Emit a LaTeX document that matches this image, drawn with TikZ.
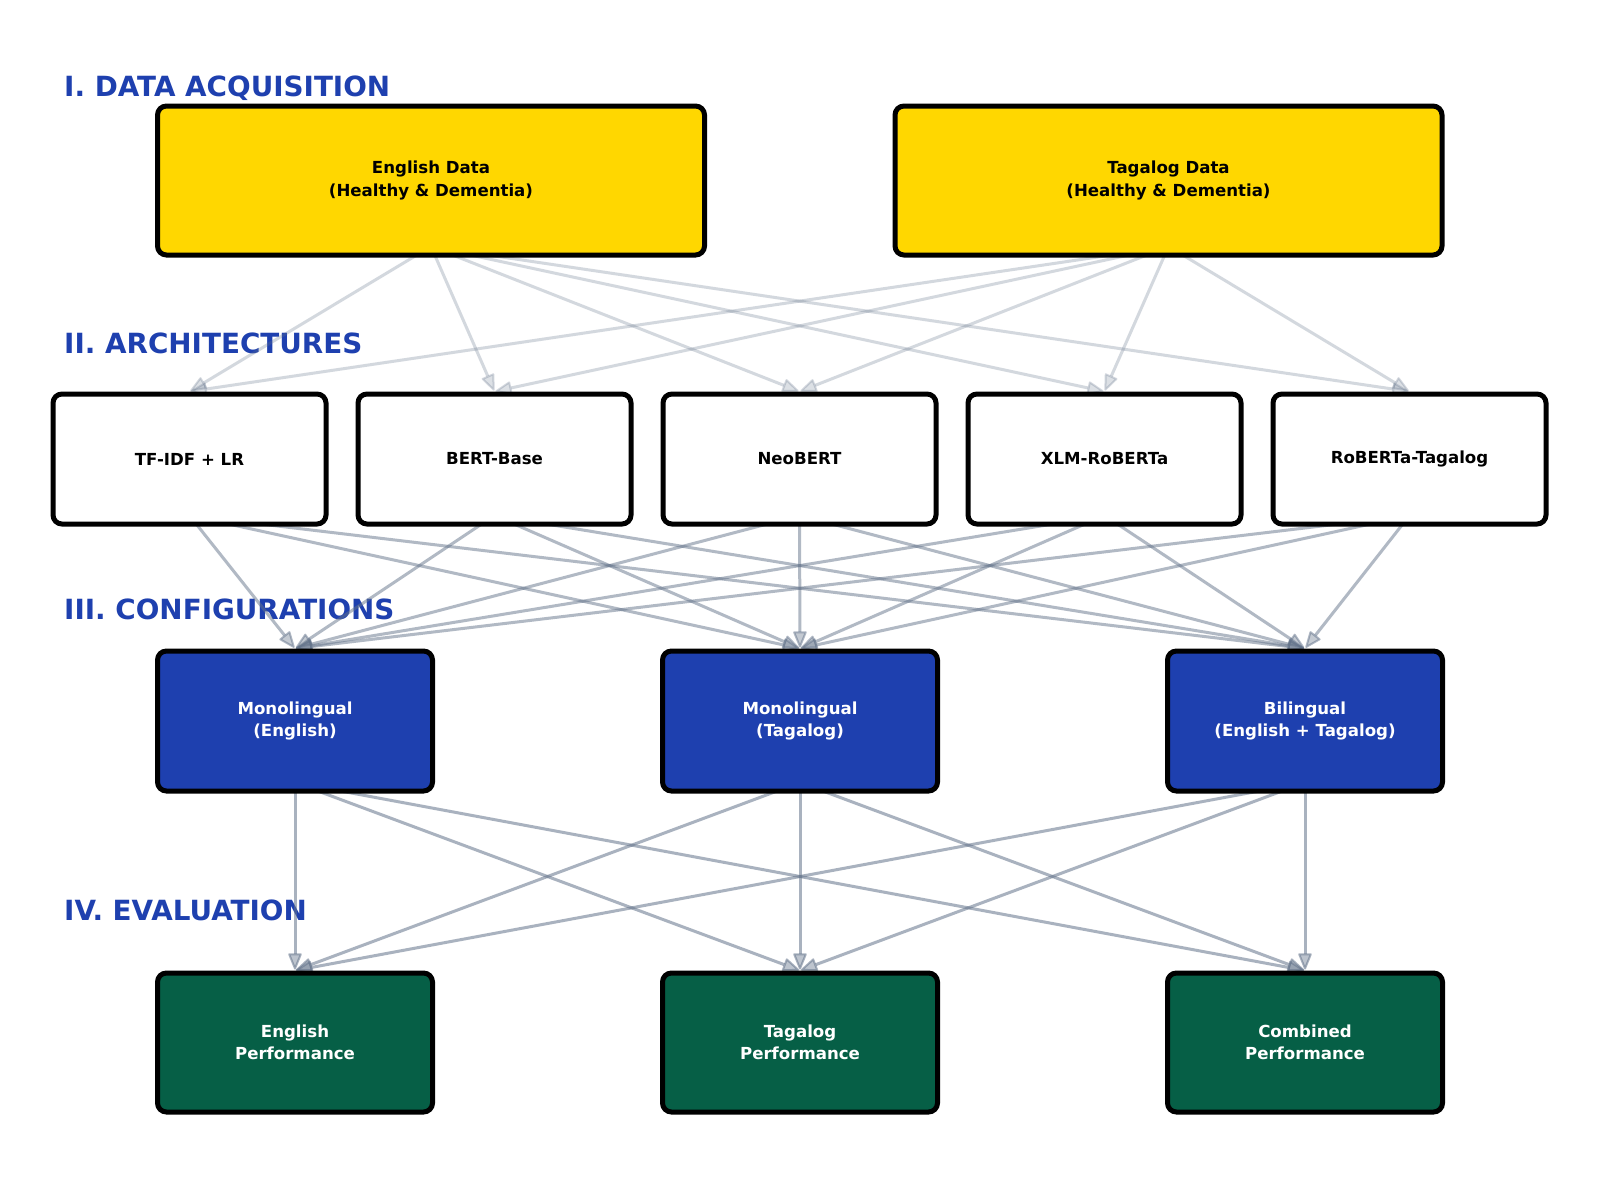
\documentclass[tikz,border=0pt]{standalone}
\usepackage{fontspec}
\setmainfont{DejaVu Sans}
\usetikzlibrary{arrows.meta,backgrounds}
\definecolor{titleblue}{HTML}{1E40AF}
\definecolor{gold}{HTML}{FFD700}
\definecolor{cfgblue}{HTML}{1E40AF}
\definecolor{evalgreen}{HTML}{065F46}
\definecolor{edgegray}{HTML}{64748B}
\begin{document}
\begin{tikzpicture}[x=1pt,y=-1pt,
  box/.style={draw=black, line width=5pt, rounded corners=9pt, align=center,
    font=\fontsize{16.6}{22.5}\selectfont\bfseries, inner sep=0pt},
  databox/.style={box, fill=gold, minimum width=547pt, minimum height=149pt},
  archbox/.style={box, fill=white, minimum width=273pt, minimum height=130pt},
  cfgbox/.style={box, fill=cfgblue, text=white, minimum width=275pt, minimum height=140pt},
  evalbox/.style={box, fill=evalgreen, text=white, minimum width=275pt, minimum height=139pt},
  sectitle/.style={anchor=base west, text=titleblue, inner sep=0pt,
    font=\fontsize{27.8}{33}\selectfont\bfseries},
  edge/.style={draw=edgegray, line width=3pt, shorten >=1pt,
    -{Triangle[length=18pt,width=14pt,line width=2pt,round]}},
  edgeA/.style={edge, draw opacity=0.28, fill opacity=0.22},
  edgeB/.style={edge, draw opacity=0.5, fill opacity=0.38},
  edgeC/.style={edge, draw opacity=0.55, fill opacity=0.42},
]
\useasboundingbox (0,0) rectangle (1600,1197);

% Data
\node[databox] (en) at (431,180.5) {English Data\\(Healthy \& Dementia)};
\node[databox] (tl) at (1168.5,180.5) {Tagalog Data\\(Healthy \& Dementia)};

% Architectures
\node[archbox] (a1) at (189.5,459) {TF-IDF + LR};
\node[archbox] (a2) at (494.5,459) {BERT-Base};
\node[archbox] (a3) at (799.5,459) {NeoBERT};
\node[archbox] (a4) at (1104.5,459) {XLM-RoBERTa};
\node[archbox] (a5) at (1409.5,459) {RoBERTa-Tagalog};

% Configurations
\node[cfgbox] (c1) at (295,721) {Monolingual\\(English)};
\node[cfgbox] (c2) at (800,721) {Monolingual\\(Tagalog)};
\node[cfgbox] (c3) at (1305,721) {Bilingual\\(English + Tagalog)};

% Evaluation
\node[evalbox] (e1) at (295,1042.5) {English\\Performance};
\node[evalbox] (e2) at (800,1042.5) {Tagalog\\Performance};
\node[evalbox] (e3) at (1305,1042.5) {Combined\\Performance};

\begin{scope}[on background layer]
  \fill[white] (0,0) rectangle (1600,1197);
  \node[sectitle] (t1) at (64,96) {I. DATA ACQUISITION};
  \node[sectitle] (t2) at (64,353) {II. ARCHITECTURES};
  \node[sectitle] (t3) at (64,619) {III. CONFIGURATIONS};
  \node[sectitle] (t4) at (64,920) {IV. EVALUATION};
  \foreach \s in {en,tl}
    \foreach \t in {a1,a2,a3,a4,a5}
      \draw[edgeA] ([yshift=11pt]\s.south) -- (\t.north);
  \foreach \s in {a1,a2,a3,a4,a5}
    \foreach \t in {c1,c2,c3}
      \draw[edgeB] ([yshift=11pt]\s.south) -- (\t.north);
  \foreach \s in {c1,c2,c3}
    \foreach \t in {e1,e2,e3}
      \draw[edgeC] ([yshift=11pt]\s.south) -- (\t.north);
\end{scope}
\end{tikzpicture}
\end{document}
